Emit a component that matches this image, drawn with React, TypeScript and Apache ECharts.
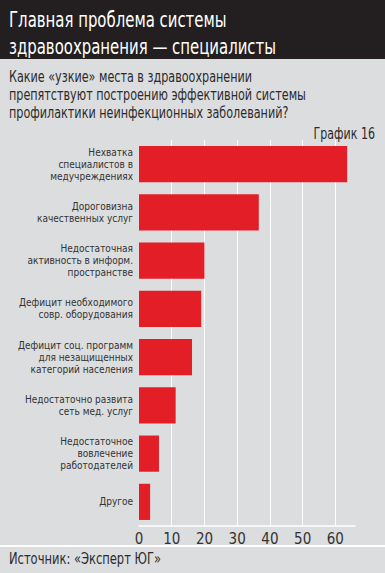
import React, { useEffect, useRef } from "react";
import * as echarts from "echarts";

const categories: string[] = [
  "Нехватка\nспециалистов в\nмедучреждениях",
  "Дороговизна\nкачественных услуг",
  "Недостаточная\nактивность в информ.\nпространстве",
  "Дефицит необходимого\nсовр. оборудования",
  "Дефицит соц. программ\nдля незащищенных\nкатегорий населения",
  "Недостаточно развита\nсеть мед. услуг",
  "Недостаточное\nвовлечение\nработодателей",
  "Другое",
];
const values: number[] = [63.6, 36.6, 20, 19, 16.2, 11.2, 6.1, 3.4];
const titleLines: string[] = ["Главная проблема системы", "здравоохранения — специалисты"];
const subtitleLines: string[] = [
  "Какие «узкие» места в здравоохранении",
  "препятствуют построению эффективной системы",
  "профилактики неинфекционных заболеваний?",
];
const chartLabel = "График 16";
const sourceText = "Источник: «Эксперт ЮГ»";

const FONT = "'Liberation Sans Narrow', 'DejaVu Sans Condensed', 'Roboto', sans-serif";

export default function App() {
  const ref = useRef<HTMLDivElement>(null);
  useEffect(() => {
    document.body.style.margin = "0";
    if (!ref.current) return;
    const chart = echarts.init(ref.current, null, { renderer: "svg" });
    chart.setOption({
      animation: false,
      backgroundColor: "#dcdddf",
      textStyle: { fontFamily: FONT },
      grid: { left: 139, right: 30, top: 140, bottom: 47, containLabel: false },
      xAxis: {
        type: "value",
        min: 0,
        max: 66,
        interval: 10,
        axisLine: { show: true, lineStyle: { color: "#ffffff", width: 1.5 } },
        axisTick: { show: false },
        splitLine: { show: true, showMaxLine: false, showMinLine: false, lineStyle: { color: "#ffffff", width: 1 } },
        axisLabel: {
          showMaxLabel: false,
          color: "#333333",
          fontFamily: FONT,
          fontSize: 15,
          margin: 5,
          formatter: (v: number) => (v % 10 === 0 ? String(v) : ""),
        },
      },
      yAxis: {
        type: "category",
        data: categories,
        inverse: true,
        axisLine: { show: false },
        axisTick: { show: false },
        axisLabel: {
          color: "#333333",
          fontFamily: FONT,
          fontSize: 10,
          lineHeight: 12,
          margin: 6,
          align: "right",
        },
      },
      series: [
        {
          type: "bar",
          data: values,
          barCategoryGap: "25%",
          itemStyle: { color: "#e31e26" },
        },
      ],
      graphic: [
        { type: "rect", x: 0, y: 0, shape: { width: 385, height: 59 }, style: { fill: "#231f20" }, z: 10 },
        {
          type: "text",
          x: 9,
          y: 6,
          scaleX: 0.79,
          z: 11,
          style: {
            text: titleLines.join("\n"),
            fill: "#ffffff",
            font: `21px ${FONT}`,
            lineHeight: 27,
          },
        },
        {
          type: "text",
          x: 9,
          y: 68,
          scaleX: 0.83,
          z: 11,
          style: {
            text: subtitleLines.join("\n"),
            fill: "#2b2b2b",
            font: `15px ${FONT}`,
            lineHeight: 18,
          },
        },
        {
          type: "text",
          x: 375,
          y: 126,
          scaleX: 0.82,
          z: 11,
          style: { text: chartLabel, fill: "#2b2b2b", font: `15px ${FONT}`, align: "right" },
        },
        { type: "rect", x: 0, y: 545, shape: { width: 385, height: 2 }, style: { fill: "#ffffff" }, z: 10 },
        {
          type: "text",
          x: 9,
          y: 550,
          scaleX: 0.8,
          z: 11,
          style: { text: sourceText, fill: "#2b2b2b", font: `16px ${FONT}` },
        },
      ],
    });
    return () => chart.dispose();
  }, []);
  return <div ref={ref} style={{ width: 385, height: 573, position: "absolute", left: 0, top: 0 }} />;
}
